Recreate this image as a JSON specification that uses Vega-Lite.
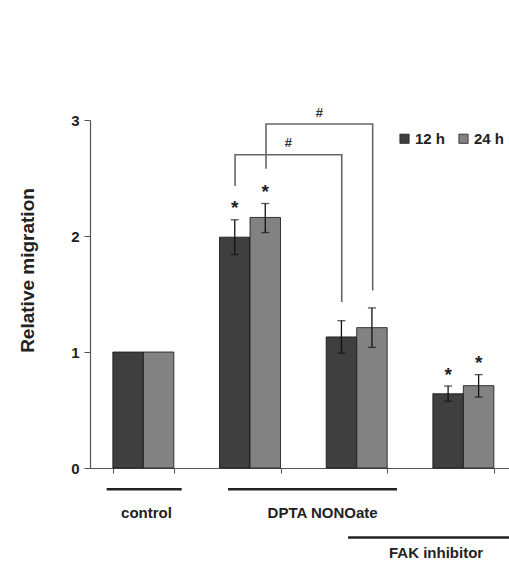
{
  "$schema": "https://vega.github.io/schema/vega-lite/v6.json",
  "width": 419,
  "height": 348,
  "autosize": {"type": "none"},
  "padding": {"left": 90, "top": 120, "right": 0, "bottom": 94},
  "background": "white",
  "config": {"view": {"stroke": null}, "font": "Liberation Sans"},
  "datasets": {
    "bars": [
      {"group": "control", "series": "12 h", "value": 1.0, "lo": null, "hi": null},
      {"group": "control", "series": "24 h", "value": 1.0, "lo": null, "hi": null},
      {"group": "DPTA", "series": "12 h", "value": 1.99, "lo": 1.84, "hi": 2.14},
      {"group": "DPTA", "series": "24 h", "value": 2.16, "lo": 2.03, "hi": 2.28},
      {"group": "DPTA+FAK", "series": "12 h", "value": 1.13, "lo": 0.99, "hi": 1.27},
      {"group": "DPTA+FAK", "series": "24 h", "value": 1.21, "lo": 1.04, "hi": 1.38},
      {"group": "FAK", "series": "12 h", "value": 0.64, "lo": 0.575, "hi": 0.707},
      {"group": "FAK", "series": "24 h", "value": 0.71, "lo": 0.612, "hi": 0.805}
    ],
    "brackets": [
      {"b": 1, "o": 1, "gx": 1.36, "y": 2.43},
      {"b": 1, "o": 2, "gx": 1.36, "y": 2.70},
      {"b": 1, "o": 3, "gx": 2.36, "y": 2.70},
      {"b": 1, "o": 4, "gx": 2.36, "y": 1.43},
      {"b": 2, "o": 1, "gx": 1.65, "y": 2.58},
      {"b": 2, "o": 2, "gx": 1.65, "y": 2.966},
      {"b": 2, "o": 3, "gx": 2.65, "y": 2.966},
      {"b": 2, "o": 4, "gx": 2.65, "y": 1.53}
    ],
    "hashes": [
      {"gx": 1.86, "y": 2.80, "t": "#"},
      {"gx": 2.15, "y": 3.06, "t": "#"}
    ],
    "stars": [
      {"gx": 1.357, "y": 2.28, "t": "*"},
      {"gx": 1.643, "y": 2.41, "t": "*"},
      {"gx": 3.357, "y": 0.84, "t": "*"},
      {"gx": 3.643, "y": 0.94, "t": "*"}
    ],
    "underlines": [
      {"x1": 0.156, "x2": 0.86, "y": -0.184},
      {"x1": 1.294, "x2": 2.878, "y": -0.184},
      {"x1": 2.419, "x2": 4.0, "y": -0.60}
    ],
    "underlabels": [
      {"gx": 0.53, "y": -0.388, "t": "control"},
      {"gx": 2.18, "y": -0.388, "t": "DPTA NONOate"},
      {"gx": 3.244, "y": -0.733, "t": "FAK inhibitor"}
    ]
  },
  "layer": [
    {
      "data": {"name": "bars"},
      "encoding": {
        "x": {
          "field": "group", "type": "nominal",
          "sort": ["control", "DPTA", "DPTA+FAK", "FAK"],
          "scale": {"range": [0, 426.7], "paddingInner": 0.428, "paddingOuter": 0.214},
          "axis": {"labels": false, "title": null, "tickBand": "extent", "tickSize": 5, "domainColor": "#555", "tickColor": "#555", "domainWidth": 1.2}
        },
        "xOffset": {"field": "series", "type": "nominal", "scale": {"paddingInner": 0, "paddingOuter": 0}}
      },
      "layer": [
        {
          "mark": {"type": "bar", "stroke": "#111", "strokeWidth": 0.8},
          "encoding": {
            "y": {
              "field": "value", "type": "quantitative",
              "scale": {"domain": [0, 3], "nice": false},
              "axis": {
                "values": [0, 1, 2, 3], "format": "d", "grid": false, "domainColor": "#555", "tickColor": "#555", "domainWidth": 1.2,
                "tickSize": 6, "labelFontSize": 15, "labelFontWeight": "bold", "labelColor": "#222", "labelPadding": 5,
                "title": "Relative migration", "titleFontSize": 19, "titleFontWeight": "bold", "titleColor": "#222",
                "titleX": -53, "titleY": 150, "titleAlign": "center", "titleAngle": -90, "titleBaseline": "bottom"
              }
            },
            "color": {
              "field": "series", "type": "nominal",
              "scale": {"range": ["#3f3f3f", "#828282"]},
              "legend": {
                "orient": "none", "legendX": 307, "legendY": 11, "direction": "horizontal", "title": null,
                "symbolType": "square", "symbolSize": 85, "symbolStrokeColor": "#222", "symbolStrokeWidth": 0.8,
                "labelFontSize": 15, "labelFontWeight": "bold", "labelColor": "#222", "labelOffset": 3, "columnPadding": 10
              }
            }
          }
        },
        {
          "mark": {"type": "rule", "color": "#111", "strokeWidth": 1.3},
          "encoding": {
            "y": {"field": "lo", "type": "quantitative"},
            "y2": {"field": "hi"}
          }
        },
        {
          "mark": {"type": "tick", "color": "#111", "size": 8, "thickness": 1.3},
          "encoding": {
            "y": {"field": "lo", "type": "quantitative"}
          }
        },
        {
          "mark": {"type": "tick", "color": "#111", "size": 8, "thickness": 1.3},
          "encoding": {
            "y": {"field": "hi", "type": "quantitative"}
          }
        }
      ]
    },
    {
      "layer": [
        {
          "data": {"name": "brackets"},
          "mark": {"type": "line", "color": "#666", "strokeWidth": 1.6},
          "encoding": {
            "x": {"field": "gx", "type": "quantitative", "scale": {"domain": [0, 4], "range": [0, 426.7], "nice": false, "zero": false}, "axis": null},
            "y": {"field": "y", "type": "quantitative"},
            "detail": {"field": "b", "type": "nominal"},
            "order": {"field": "o", "type": "quantitative"}
          }
        },
        {
          "data": {"name": "hashes"},
          "mark": {"type": "text", "fontSize": 13, "fontWeight": "bold", "color": "#333", "baseline": "middle"},
          "encoding": {
            "x": {"field": "gx", "type": "quantitative"},
            "y": {"field": "y", "type": "quantitative"},
            "text": {"field": "t"}
          }
        },
        {
          "data": {"name": "stars"},
          "mark": {"type": "text", "fontSize": 19, "fontWeight": "bold", "color": "#222", "baseline": "middle", "dy": 4},
          "encoding": {
            "x": {"field": "gx", "type": "quantitative"},
            "y": {"field": "y", "type": "quantitative"},
            "text": {"field": "t"}
          }
        },
        {
          "data": {"name": "underlines"},
          "mark": {"type": "rule", "color": "#222", "strokeWidth": 2.5},
          "encoding": {
            "x": {"field": "x1", "type": "quantitative"},
            "x2": {"field": "x2"},
            "y": {"field": "y", "type": "quantitative"}
          }
        },
        {
          "data": {"name": "underlabels"},
          "mark": {"type": "text", "fontSize": 15, "fontWeight": "bold", "color": "#222", "baseline": "middle"},
          "encoding": {
            "x": {"field": "gx", "type": "quantitative"},
            "y": {"field": "y", "type": "quantitative"},
            "text": {"field": "t"}
          }
        }
      ]
    }
  ],
  "resolve": {"scale": {"x": "independent"}, "axis": {"x": "independent"}}
}
